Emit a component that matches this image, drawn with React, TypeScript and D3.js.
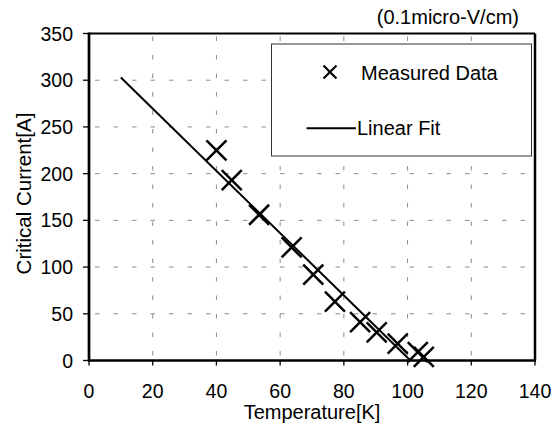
import React from "react";
import * as d3 from "d3";

const measuredT = [40, 44.8, 53.4, 63.6, 70.4, 77.2, 85.1, 90.3, 96.9, 103.2, 105.1];
const measuredIc = [225, 193, 156, 121, 92, 63, 41, 30, 18, 9, 4];
const fitT = [10, 100.9];
const fitIc = [303, 0];
const xTicks = [0, 20, 40, 60, 80, 100, 120, 140];
const yTicks = [0, 50, 100, 150, 200, 250, 300, 350];
const xTitle = "Temperature[K]";
const yTitle = "Critical Current[A]";
const topNote = "(0.1micro-V/cm)";
const legendLabels = ["Measured Data", "Linear Fit"];

const W = 559, H = 429;
const L = 89, R = 535, T = 33.5, B = 360.5;
const FONT = "Arial, 'Liberation Sans', sans-serif";

export default function App() {
  const x = d3.scaleLinear().domain([0, 140]).range([L, R]);
  const y = d3.scaleLinear().domain([0, 350]).range([B, T]);
  const line = d3.line<number>().x((_, i) => x(fitT[i])).y((d) => y(d));
  const gridColor = "#8c8c8c";
  const cross = (cx: number, cy: number, s: number, sw: number, key: string) => (
    <g key={key} stroke="#000" strokeWidth={sw} strokeLinecap="butt">
      <line x1={cx - s} y1={cy - s} x2={cx + s} y2={cy + s} />
      <line x1={cx - s} y1={cy + s} x2={cx + s} y2={cy - s} />
    </g>
  );
  return (
    <svg width={W} height={H} style={{ position: "absolute", left: 0, top: 0, background: "#fff" }} fontFamily={FONT}>
      <rect x={0} y={0} width={W} height={H} fill="#fff" />
      {/* grid */}
      {yTicks.filter((v) => v > 0 && v < 350).map((v) => (
        <line key={"gy" + v} x1={L} x2={R} y1={y(v)} y2={y(v)} stroke={gridColor} strokeWidth={1} strokeDasharray="4.5 14" strokeDashoffset={-6} />
      ))}
      {xTicks.filter((v) => v > 0 && v < 140).map((v) => (
        <line key={"gx" + v} x1={x(v)} x2={x(v)} y1={T} y2={B} stroke={gridColor} strokeWidth={1} strokeDasharray="4.5 14" strokeDashoffset={-3} />
      ))}
      {/* frame */}
      <line x1={L} x2={R} y1={T} y2={T} stroke="#000" strokeWidth={2} />
      <line x1={R} x2={R} y1={T} y2={B} stroke="#000" strokeWidth={2.5} />
      <line x1={L} x2={L} y1={T - 1} y2={B + 1} stroke="#000" strokeWidth={2.7} />
      <line x1={L - 1} x2={R + 1} y1={B} y2={B} stroke="#000" strokeWidth={2.7} />
      {/* ticks */}
      {yTicks.map((v) => (
        <g key={"ty" + v}>
          <line x1={L - 6} x2={L} y1={y(v)} y2={y(v)} stroke="#000" strokeWidth={1.3} />
          <text x={73} y={y(v) + 7} textAnchor="end" fontSize={19.5} fill="#000">{v}</text>
        </g>
      ))}
      {xTicks.map((v) => (
        <g key={"tx" + v}>
          <line x1={x(v)} x2={x(v)} y1={B} y2={B + 5} stroke="#000" strokeWidth={1.3} />
          <text x={x(v)} y={398} textAnchor="middle" fontSize={19.5} fill="#000">{v}</text>
        </g>
      ))}
      {/* titles */}
      <text x={(L + R) / 2} y={419} textAnchor="middle" fontSize={20} fill="#000">{xTitle}</text>
      <text transform={`translate(31,193.5) rotate(-90)`} textAnchor="middle" fontSize={20.5} fill="#000">{yTitle}</text>
      <text x={519} y={24} textAnchor="end" fontSize={20} fill="#000">{topNote}</text>
      {/* fit line */}
      <path d={line(fitIc) || ""} fill="none" stroke="#000" strokeWidth={2} />
      {/* markers */}
      {measuredT.map((t, i) => cross(x(t), y(measuredIc[i]), 10, 2.5, "m" + i))}
      {/* legend */}
      <rect x={271.5} y={44} width={260} height={112} fill="#fff" stroke="#333" strokeWidth={1} />
      {cross(330, 72, 6.5, 2.2, "lg")}
      <text x={361} y={79.5} fontSize={20} fill="#000">{legendLabels[0]}</text>
      <line x1={306.5} x2={356} y1={128.3} y2={128.3} stroke="#000" strokeWidth={2} />
      <text x={357} y={134.5} fontSize={20} fill="#000">{legendLabels[1]}</text>
    </svg>
  );
}
